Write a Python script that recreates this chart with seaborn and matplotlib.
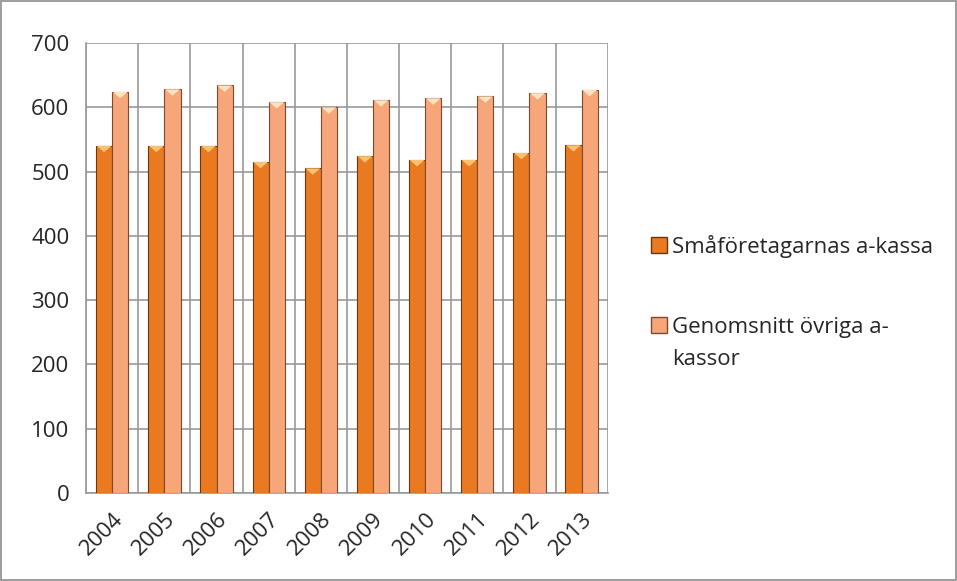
import pandas as pd
import numpy as np
import matplotlib.pyplot as plt
import seaborn as sns
from matplotlib.patches import Rectangle, Polygon

# values
years = ['2004', '2005', '2006', '2007', '2008', '2009', '2010', '2011', '2012', '2013']
smaforetagarna = [540, 540, 540, 515, 505, 524, 518, 518, 529, 541]
ovriga = [624, 628, 634, 608, 600, 611, 614, 617, 622, 627]
series_names = ['Småföretagarnas a-kassa', 'Genomsnitt övriga a-kassor']

df = pd.DataFrame({
    'year': years * 2,
    'value': smaforetagarna + ovriga,
    'series': [series_names[0]] * len(years) + [series_names[1]] * len(years),
})

sns.set_style('white')
plt.rcParams['font.family'] = ['Open Sans', 'DejaVu Sans']

fig = plt.figure(figsize=(9.57, 5.81), dpi=100)
ax = fig.add_axes([0.090, 0.1515, 0.545, 0.7745])

colors = ['#EA7A22', '#F7A67A']
edges = ['#6E350C', '#7F4A2C']
caps = ['#FBC070', '#FFE3C0']
sns.barplot(data=df, x='year', y='value', hue='series', palette=colors,
            saturation=1, width=0.62, ax=ax, legend=False, zorder=3)

# bevel look: dark outline plus a light triangular cap on each bar top
for i, cont in enumerate(ax.containers):
    for bar in cont:
        bar.set_edgecolor(edges[i])
        bar.set_linewidth(0.8)
        x0, w, top = bar.get_x(), bar.get_width(), bar.get_height()
        cap = Polygon([(x0 + 0.04 * w, top), (x0 + 0.96 * w, top), (x0 + w / 2, top - 10)],
                      closed=True, facecolor=caps[i], edgecolor='none', zorder=4)
        ax.add_patch(cap)

ax.set_ylim(0, 700)
ax.set_xlim(-0.5, len(years) - 0.5)
ax.set_yticks(range(0, 701, 100))
ax.set_xlabel('')
ax.set_ylabel('')

# gridlines at category boundaries
ax.set_xticks(np.arange(-0.5, len(years), 1.0), minor=True)
ax.grid(True, axis='y', color='#9a9a9a', linewidth=1.2, zorder=0)
ax.grid(True, axis='x', which='minor', color='#9a9a9a', linewidth=1.2, zorder=0)
ax.grid(False, axis='x', which='major')
ax.tick_params(axis='x', which='major', length=0, pad=11)
ax.tick_params(axis='x', which='minor', length=6, color='#9a9a9a', width=1.2)
ax.tick_params(axis='y', length=6, color='#9a9a9a', width=1.2, labelsize=16, pad=6)
ax.set_xticks(range(len(years)))
ax.set_xticklabels(years, rotation=45, ha='right', rotation_mode='anchor', fontsize=16)
ax.set_axisbelow(True)

for side in ['top', 'right']:
    ax.spines[side].set_visible(False)
for side in ['left', 'bottom']:
    ax.spines[side].set_color('#9a9a9a')
    ax.spines[side].set_linewidth(1.2)

# legend, laid out like the original (handle aligned with first text line)
sq_w, sq_h = 16 / 957, 16 / 581
leg_x, txt_x = 651 / 957, 672 / 957
leg_rows = [(0.5645, [series_names[0]]), (0.4269, ['Genomsnitt övriga a-', 'kassor'])]
for (base_y, lines), fc, ec in zip(leg_rows, colors, edges):
    fig.patches.append(Rectangle((leg_x, base_y), sq_w, sq_h, transform=fig.transFigure,
                                 facecolor=fc, edgecolor=ec, linewidth=1.0))
    for j, line in enumerate(lines):
        fig.text(txt_x, base_y - j * 32 / 581, line, fontsize=16, va='baseline', ha='left')

# outer chart border
fig.patches.append(Rectangle((0.001, 0.001), 0.998, 0.998, transform=fig.transFigure,
                             fill=False, edgecolor='#8c8c8c', linewidth=1.2))

plt.savefig('out.png', dpi=100)
